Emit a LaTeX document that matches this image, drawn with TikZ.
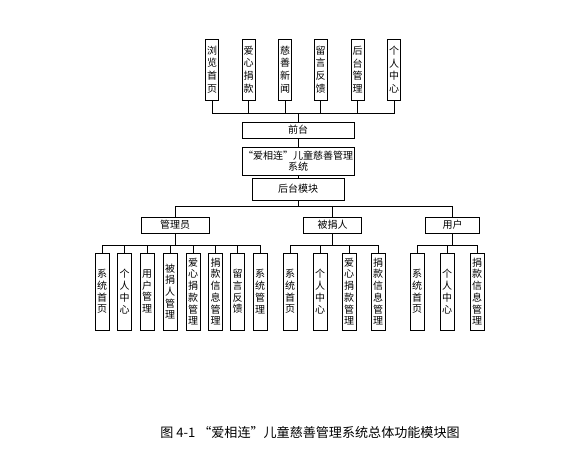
\documentclass[tikz,border=0pt]{standalone}
\usepackage{fontspec}
\newfontfamily\cjk{Noto Sans CJK SC}
\begin{document}
\begin{tikzpicture}[x=0.75pt,y=-0.75pt,
	vbox/.style={draw,line width=0.7pt,inner sep=0pt,minimum width=10.5pt,minimum height=57.75pt,align=center,font=\cjk\fontsize{7.5}{8.8}\selectfont},
	hbox/.style={draw,line width=0.7pt,inner sep=0pt,align=center,font=\cjk\fontsize{7.5}{9}\selectfont},
	link/.style={line width=0.7pt}]
	\useasboundingbox (0,0) rectangle (574,465);
	%front modules
	\foreach \x/\t [count=\i] in {212/浏\\览\\首\\页,248.5/爱\\心\\捐\\款,285/慈\\善\\新\\闻,320.5/留\\言\\反\\馈,357.5/后\\台\\管\\理,394/个\\人\\中\\心}
		\node[vbox,minimum width=9.75pt,minimum height=45.75pt,font=\cjk\fontsize{7.5}{9.5}\selectfont] (t\i) at (\x,69.5) {\t};
	\node[hbox,minimum width=84pt,minimum height=12pt] (qiantai) at (298,130) {前台};
	\node[hbox,minimum width=84pt,minimum height=21pt,font=\cjk\fontsize{7.5}{8.5}\selectfont] (xitong) at (298,161) {“爱相连”儿童慈善管理\\系统};
	\node[hbox,minimum width=69pt,minimum height=16.5pt] (houtai) at (298,189) {后台模块};
	%roles
	\node[hbox,minimum width=51pt,minimum height=12pt] (admin) at (175,225) {管理员};
	\node[hbox,minimum width=43pt,minimum height=12pt] (donee) at (332.5,225) {被捐人};
	\node[hbox,minimum width=41pt,minimum height=12pt] (user) at (452.5,225) {用户};
	\foreach \x/\t [count=\i] in {102/系\\统\\首\\页,124.5/个\\人\\中\\心,147/用\\户\\管\\理,170/被\\捐\\人\\管\\理,193/爱\\心\\捐\\款\\管\\理,215.5/捐\\款\\信\\息\\管\\理,237.5/留\\言\\反\\馈,260/系\\统\\管\\理}
		\node[vbox] (a\i) at (\x,291.5) {\t};
	\foreach \x/\t [count=\i] in {290/系\\统\\首\\页,320/个\\人\\中\\心,349/爱\\心\\捐\\款\\管\\理,378/捐\\款\\信\\息\\管\\理}
		\node[vbox] (d\i) at (\x,291.5) {\t};
	\foreach \x/\t [count=\i] in {417/系\\统\\首\\页,447/个\\人\\中\\心,477/捐\\款\\信\\息\\管\\理}
		\node[vbox] (u\i) at (\x,291.5) {\t};
	%links
	\foreach \i in {1,...,6} \draw[link] (qiantai.north) -- ++(0,-8) -| (t\i.south);
	\draw[link] (qiantai) -- (xitong);
	\draw[link] (xitong) -- (houtai);
	\foreach \r in {admin,donee,user} \draw[link] (houtai.south) -- ++(0,6) -| (\r.north);
	\foreach \i in {1,...,8} \draw[link] (admin.south) -- ++(0,12) -| (a\i.north);
	\foreach \i in {1,...,4} \draw[link] (donee.south) -- ++(0,12) -| (d\i.north);
	\foreach \i in {1,...,3} \draw[link] (user.south) -- ++(0,12) -| (u\i.north);
	\node[font=\cjk\fontsize{9.8}{11}\selectfont] (caption) at (310,432) {图 4-1 “爱相连”儿童慈善管理系统总体功能模块图};
\end{tikzpicture}
\end{document}
